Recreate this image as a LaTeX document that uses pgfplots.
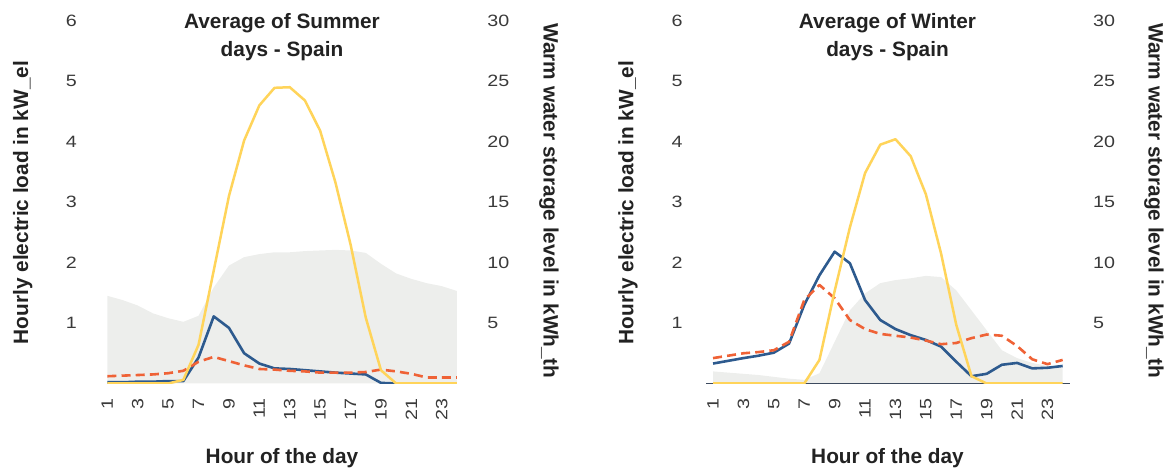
\documentclass[border=0pt]{standalone}
\usepackage{fontspec}
\setmainfont{Liberation Sans}
\newfontfamily\tickfont[FakeStretch=1.2]{Liberation Sans}
\usepackage{pgfplots}
\pgfplotsset{compat=1.18}
\usepackage{pgfplotstable}

\definecolor{cyel}{HTML}{FFD45A}
\definecolor{cblue}{HTML}{2D5A8E}
\definecolor{corange}{HTML}{EF6236}
\definecolor{cgrey}{HTML}{EDEEEC}
\definecolor{ctxt}{HTML}{222222}
\definecolor{ctick}{HTML}{3A3A3A}
\definecolor{caxis}{HTML}{3C4A5E}

\pgfplotstableread{
h yel blue orange grey
1  0    0.02  0.12 7.25
2  0    0.02  0.13 6.9
3  0    0.03  0.14 6.45
4  0    0.03  0.15 5.8
5  0    0.04  0.17 5.4
6  0.06 0.04  0.21 5.1
7  0.64 0.43  0.36 5.6
8  1.87 1.11  0.44 7.95
9  3.10 0.92  0.37 9.75
10 4.02 0.50  0.30 10.45
11 4.60 0.33  0.24 10.7
12 4.89 0.25  0.23 10.85
13 4.90 0.24  0.21 10.85
14 4.68 0.22  0.20 10.95
15 4.18 0.20  0.18 11.0
16 3.33 0.18  0.18 11.05
17 2.30 0.165 0.18 11.0
18 1.09 0.15  0.19 10.8
19 0.22 0.01  0.23 9.9
20 0    0     0.20 9.1
21 0    0     0.16 8.65
22 0    0     0.10 8.3
23 0    0     0.10 8.05
24 0    0     0.10 7.65
}\summer

\pgfplotstableread{
h yel blue orange grey
1  0    0.33  0.42 1.0
2  0    0.375 0.46 0.9
3  0    0.42  0.50 0.8
4  0    0.46  0.52 0.7
5  0    0.51  0.55 0.55
6  0    0.66  0.69 0.4
7  0    1.30  1.38 0.3
8  0.39 1.79  1.63 0.85
9  1.53 2.18  1.41 3.45
10 2.58 1.99  1.05 6.05
11 3.48 1.38  0.90 7.45
12 3.95 1.05  0.82 8.3
13 4.04 0.90  0.79 8.55
14 3.76 0.80  0.76 8.7
15 3.13 0.72  0.71 8.9
16 2.15 0.61  0.65 8.8
17 0.97 0.36  0.67 7.7
18 0.12 0.12  0.75 6.05
19 0    0.16  0.81 4.4
20 0    0.31  0.79 2.75
21 0    0.34  0.62 2.1
22 0    0.25  0.40 1.7
23 0    0.26  0.32 1.45
24 0    0.29  0.39 1.3
}\winter

\pgfplotsset{
  base/.style={
    scale only axis, width=181.65pt, height=181.4pt,
    xmin=0.55, xmax=24.45,
    anchor=south west,
    /pgf/number format/assume math mode=true,
    major tick length=0pt,
    tick style={draw=none},
  },
  tickf/.style={font=\tickfont\fontsize{8.2}{9}\selectfont, text=ctick, inner sep=0pt},
  rightax/.style={
    base, ymin=0, ymax=30, ytick={5,10,...,30},
    hide x axis,
    axis y line*=right,
    y axis line style={draw=none},
    yticklabel style={tickf, anchor=west},
    yticklabel shift=11.6pt,
  },
  leftax/.style={
    base, ymin=0, ymax=6, ytick={1,...,6},
    axis x line*=bottom, axis y line*=left,
    y axis line style={draw=none},
    xtick={1,3,...,23},
    xticklabel style={tickf, rotate=90, anchor=east},
    xticklabel shift=7.25pt,
    yticklabel style={tickf, anchor=east},
    yticklabel shift=11.6pt,
  },
  yl/.style={line width=1.25pt, color=cyel, line join=round},
  bl/.style={line width=1.3pt, color=cblue, line join=round},
  ol/.style={line width=1.3pt, color=corange, dash pattern=on 4.5pt off 2.6pt, line join=round},
}

\begin{document}
\begin{tikzpicture}
\path[use as bounding box] (0,0) rectangle (585pt,235pt);

% Summer
\begin{axis}[rightax, at={(50.25pt,43.25pt)}]
  \addplot[fill=cgrey, draw=none] table[x=h, y=grey] {\summer} \closedcycle;
\end{axis}
\begin{axis}[leftax, at={(50.25pt,43.25pt)}, x axis line style={draw=none}]
  \addplot[bl] table[x=h, y=blue] {\summer};
  \addplot[ol] table[x=h, y=orange] {\summer};
  \addplot[yl] table[x=h, y=yel] {\summer};
\end{axis}

% Winter
\begin{axis}[rightax, at={(353.1pt,43.25pt)}]
  \addplot[fill=cgrey, draw=none] table[x=h, y=grey] {\winter} \closedcycle;
\end{axis}
\begin{axis}[leftax, at={(353.1pt,43.25pt)}, x axis line style={-, draw=caxis, line width=0.6pt}]
  \addplot[bl] table[x=h, y=blue] {\winter};
  \addplot[ol] table[x=h, y=orange] {\winter};
  \addplot[yl] table[x=h, y=yel] {\winter};
\end{axis}

\tikzset{lab/.style={font=\bfseries\fontsize{10.4}{12}\selectfont, text=ctxt, inner sep=0pt}}
% titles
\node[lab, anchor=base] at (141pt,220.85pt) {Average of Summer};
\node[lab, anchor=base] at (141pt,206.65pt) {days - Spain};
\node[lab, anchor=base] at (443.75pt,220.85pt) {Average of Winter};
\node[lab, anchor=base] at (443.75pt,206.65pt) {days - Spain};
% x labels
\node[lab, anchor=base] at (141pt,3.35pt) {Hour of the day};
\node[lab, anchor=base] at (443.75pt,3.35pt) {Hour of the day};
% y labels
\node[lab, rotate=90, anchor=base] at (14pt,133.75pt) {Hourly electric load in kW\_el};
\node[lab, rotate=90, anchor=base] at (316.65pt,133.75pt) {Hourly electric load in kW\_el};
\node[lab, rotate=-90, anchor=base] at (271.75pt,134.5pt) {Warm water storage level in kWh\_th};
\node[lab, rotate=-90, anchor=base] at (574.25pt,134.5pt) {Warm water storage level in kWh\_th};
\end{tikzpicture}
\end{document}
